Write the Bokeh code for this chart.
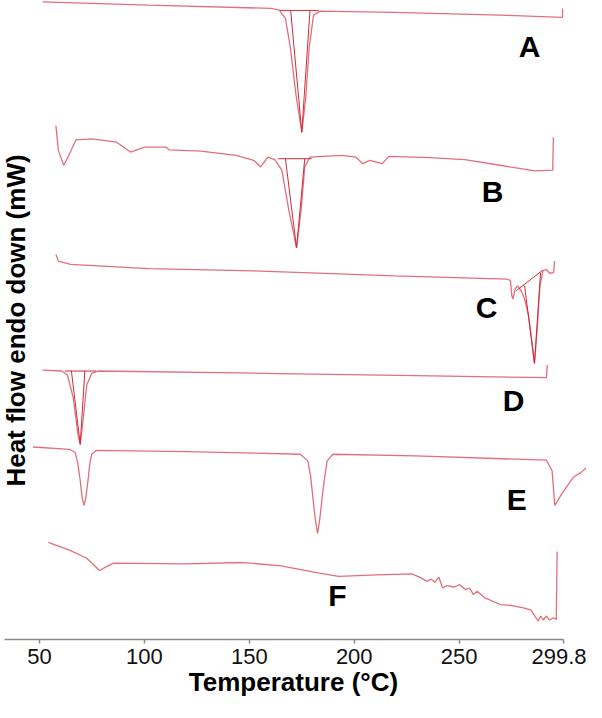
import math
from bokeh.plotting import figure
from bokeh.models import Range1d, FixedTicker, Label
from bokeh.core.properties import value
from bokeh.embed import file_html
from bokeh.resources import INLINE

# ---- data: temperature (deg C) and heat flow (arbitrary, stacked) ----
temp_A = [51.4, 101.8, 160.4, 164.2, 167.2, 169.6, 172.2, 175.0, 176.9, 178.5, 180.6, 183.9, 219.2, 269.4, 299.3, 299.3]
hf_A = [643.7, 640.3, 637.0, 635.3, 627.0, 597.0, 550.3, 512.0, 547.0, 597.0, 630.3, 634.3, 633.0, 630.3, 628.0, 637.0]

temp_B = [57.8, 59.0, 61.5, 64.0, 67.3, 74.9, 86.7, 93.4, 100.0, 110.2, 111.8, 126.9, 143.7, 152.1, 155.4, 158.8,
          162.1, 165.5, 168.8, 172.5, 174.7, 176.4, 178.9, 194.0, 200.7, 204.1, 207.4, 213.3, 216.6, 235.9, 252.7,
          269.4, 286.2, 294.6, 294.9]
hf_B = [518.7, 493.7, 478.7, 488.7, 504.3, 505.3, 502.0, 492.0, 497.0, 497.0, 494.3, 493.0, 488.7, 483.7, 477.0, 487.0,
        484.3, 473.7, 433.7, 395.3, 433.7, 477.0, 487.0, 488.7, 487.0, 480.3, 483.7, 480.3, 487.7, 486.3, 484.3,
        478.7, 473.0, 473.7, 507.0]

temp_C = [57.8, 59.0, 64.8, 101.8, 152.1, 219.2, 273.2, 274.5, 275.1, 275.6, 276.7, 277.7, 279.6, 281.2, 283.1,
          284.7, 285.9, 287.2, 288.5, 289.9, 291.5, 293.1, 295.0, 295.5]
hf_C = [388.7, 382.0, 378.7, 374.3, 372.0, 367.0, 363.7, 362.0, 347.0, 343.7, 353.7, 357.0, 352.0, 343.7, 327.0,
        300.3, 278.7, 313.7, 357.0, 372.0, 373.7, 369.7, 370.3, 382.0]

temp_D = [51.4, 60.6, 63.3, 66.1, 68.3, 69.4, 70.7, 72.5, 74.9, 78.0, 155.9, 229.3, 291.6, 292.0]
hf_D = [272.0, 271.0, 267.0, 243.7, 207.0, 197.0, 220.3, 257.0, 268.7, 271.0, 268.7, 266.3, 264.3, 277.0]

temp_E = [46.9, 64.3, 67.0, 68.2, 69.4, 70.4, 71.2, 72.0, 73.1, 74.0, 74.9, 77.1, 119.3, 174.3, 177.9, 179.2,
          180.1, 181.4, 182.5, 183.6, 184.9, 186.0, 187.1, 189.8, 229.3, 291.6, 294.3, 295.6, 298.9, 304.4,
          308.1, 312.6, 312.6]
hf_E = [194.3, 192.0, 188.7, 178.0, 160.3, 142.0, 135.3, 142.0, 160.3, 178.0, 187.0, 191.0, 189.7, 187.0, 180.3,
        165.0, 147.0, 122.0, 107.0, 122.0, 147.0, 165.0, 180.3, 187.0, 185.3, 181.0, 170.3, 135.3, 147.0, 163.7,
        168.7, 177.0, 187.0]

temp_F = [54.2, 64.3, 72.5, 78.6, 82.6, 85.4, 119.3, 146.8, 165.1, 183.4, 192.6, 210.9, 227.4, 231.1, 234.7,
          236.6, 238.4, 240.3, 242.1, 243.9, 247.6, 250.3, 253.1, 254.9, 256.8, 258.6, 262.3, 269.6, 275.1,
          280.6, 284.3, 287.6, 288.9, 290.1, 291.6, 293.0, 294.9, 296.3, 296.7]
hf_F = [98.0, 90.3, 82.0, 69.7, 74.3, 77.0, 76.3, 77.7, 74.3, 67.0, 63.7, 65.3, 66.3, 63.0, 58.7,
        61.0, 57.7, 63.0, 52.0, 54.3, 53.0, 55.3, 50.3, 52.0, 45.3, 48.7, 42.0, 35.3, 34.3,
        32.0, 29.7, 18.7, 23.7, 19.7, 23.7, 19.7, 22.0, 20.3, 88.7]

# peak-integration construction lines (baseline + tangents)
tan_temp = [[164.6, 183.1], [169.7, 175.0, 178.9],
            [163.8, 179.7], [167.2, 172.5, 176.4],
            [277.2, 289.9], [281.2, 285.9, 288.8],
            [62.0, 77.0], [65.2, 69.4, 71.6]]
tan_hf = [[635.0, 635.0], [635.0, 512.0, 635.0],
          [485.3, 485.3], [485.3, 395.3, 485.3],
          [352.0, 373.0], [357.0, 278.7, 370.3],
          [271.0, 271.0], [271.0, 197.0, 271.0]]

curve_names = ["A", "B", "C", "D", "E", "F"]
name_temp = [283.6, 265.9, 263.1, 275.9, 277.4, 192.0]
name_hf = [599.0, 452.0, 335.0, 241.0, 141.0, 44.0]

tick_values = [50, 100, 150, 200, 250, 299.8]
tick_labels = ["50", "100", "150", "200", "250", "299.8"]

x_title = "Temperature (°C)"
y_title = "Heat flow endo down (mW)"

# ---- figure ----
p = figure(width=586, height=702, x_range=Range1d(31.4, 310.7), y_range=Range1d(0, 645),
           output_backend="svg", toolbar_location=None, y_axis_location=None,
           min_border=0, min_border_left=0, min_border_right=0, min_border_top=0,
           min_border_bottom=63)
p.outline_line_color = None
p.xgrid.visible = False
p.ygrid.visible = False

line_col = "#e36f7b"
for t, h in [(temp_A, hf_A), (temp_B, hf_B), (temp_C, hf_C), (temp_D, hf_D), (temp_E, hf_E), (temp_F, hf_F)]:
    p.line(t, h, line_color=line_col, line_width=1.3)

p.multi_line(tan_temp, tan_hf, line_color="#cf2a37", line_width=1.0)

p.text(x=name_temp, y=name_hf, text=curve_names, text_font=value("Liberation Sans"),
       text_font_style="bold", text_font_size="30px", text_align="center",
       text_baseline="middle", text_color="#000000")

ax = p.xaxis[0]
ax.ticker = FixedTicker(ticks=tick_values)
ax.major_label_overrides = {v: s for v, s in zip(tick_values, tick_labels)}
ax.bounds = (33.3, 299.8)
ax.axis_line_color = "#8a8a8a"
ax.axis_line_width = 1.5
ax.major_tick_line_color = "#8a8a8a"
ax.major_tick_line_width = 1.5
ax.major_tick_out = 4
ax.major_tick_in = 0
ax.minor_tick_line_color = None
ax.major_label_text_font = "Liberation Sans"
ax.major_label_text_font_size = "22px"
ax.major_label_text_color = "#111111"
ax.major_label_standoff = 5
ax.axis_label = x_title
ax.axis_label_text_font = "Liberation Sans"
ax.axis_label_text_font_style = "bold"
ax.axis_label_text_font_size = "26px"
ax.axis_label_text_color = "#000000"
ax.axis_label_standoff = 0

ylab = Label(x=38.8, y=322, text=y_title, angle=math.pi / 2,
             text_font="Liberation Sans", text_font_style="bold", text_font_size="26px",
             text_align="center", text_baseline="middle", text_color="#000000")
p.add_layout(ylab)

open("out.html", "w").write(file_html(p, INLINE))
